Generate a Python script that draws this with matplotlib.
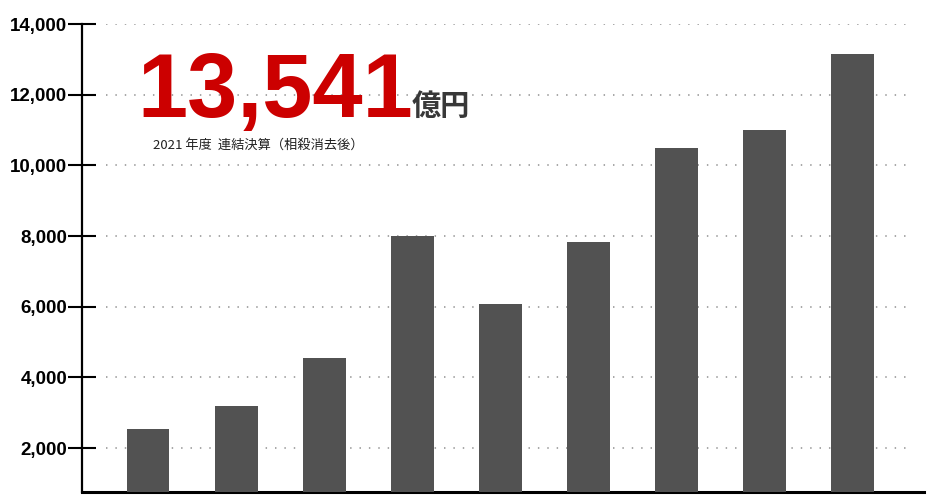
import numpy as np
import matplotlib.pyplot as plt
from matplotlib import font_manager

values = [2540, 3190, 4560, 8010, 6070, 7830, 10490, 11000, 13160]
yticks = [2000, 4000, 6000, 8000, 10000, 12000, 14000]
ytick_labels = ['2,000', '4,000', '6,000', '8,000', '10,000', '12,000', '14,000']
headline = '13,541'
unit = '億円'
subtitle = '2021 年度  連結決算（相殺消去後）'

W, H = 935, 497
names = {f.name for f in font_manager.fontManager.ttflist}
narrow = 'Liberation Sans Narrow' if 'Liberation Sans Narrow' in names else 'Liberation Sans'
head_size = 77 if narrow == 'Liberation Sans Narrow' else 65

fig = plt.figure(figsize=(W / 100, H / 100), dpi=100)
ax = fig.add_axes([82 / W, 5.5 / H, (924 - 82) / W, (491.5 - 24) / H])

x = np.arange(len(values))
ax.bar(x, values, width=0.488, color='#525252', zorder=3)

ax.set_xlim(-0.7495, 8.812)
ax.set_ylim(770, 14000)

# dotted grid, stops short of the axes on both ends
for v in yticks:
    ax.axhline(v, xmin=0.0285, xmax=0.987, color='#a0a0a0', lw=1.3,
               ls=(0, (0.8, 4.4)), zorder=1)

ax.spines['top'].set_visible(False)
ax.spines['right'].set_visible(False)
ax.spines['left'].set_linewidth(1.6)
ax.spines['bottom'].set_linewidth(2.2)
ax.spines['left'].set_bounds(770, 14000)
ax.set_xticks([])
ax.set_yticks(yticks)
ax.set_yticklabels(ytick_labels, fontfamily='Liberation Sans',
                   fontweight='bold', fontsize=13.5)
ax.tick_params(axis='y', direction='inout', length=19.5, width=1.5, pad=1)

fig.text(137 / W, 1 - 117 / H, headline, color='#cc0000', fontsize=head_size,
         fontweight='bold', family=narrow, ha='left', va='baseline')
fig.text(412 / W, 1 - 115 / H, unit, color='#383838', fontsize=21,
         fontweight='bold', family=['Noto Sans CJK JP', 'DejaVu Sans'],
         ha='left', va='baseline')
fig.text(153 / W, 1 - 149 / H, subtitle, color='#222222', fontsize=9.5,
         family=['Noto Sans CJK JP', 'DejaVu Sans'], ha='left', va='baseline')

fig.savefig('out.png', dpi=100)
